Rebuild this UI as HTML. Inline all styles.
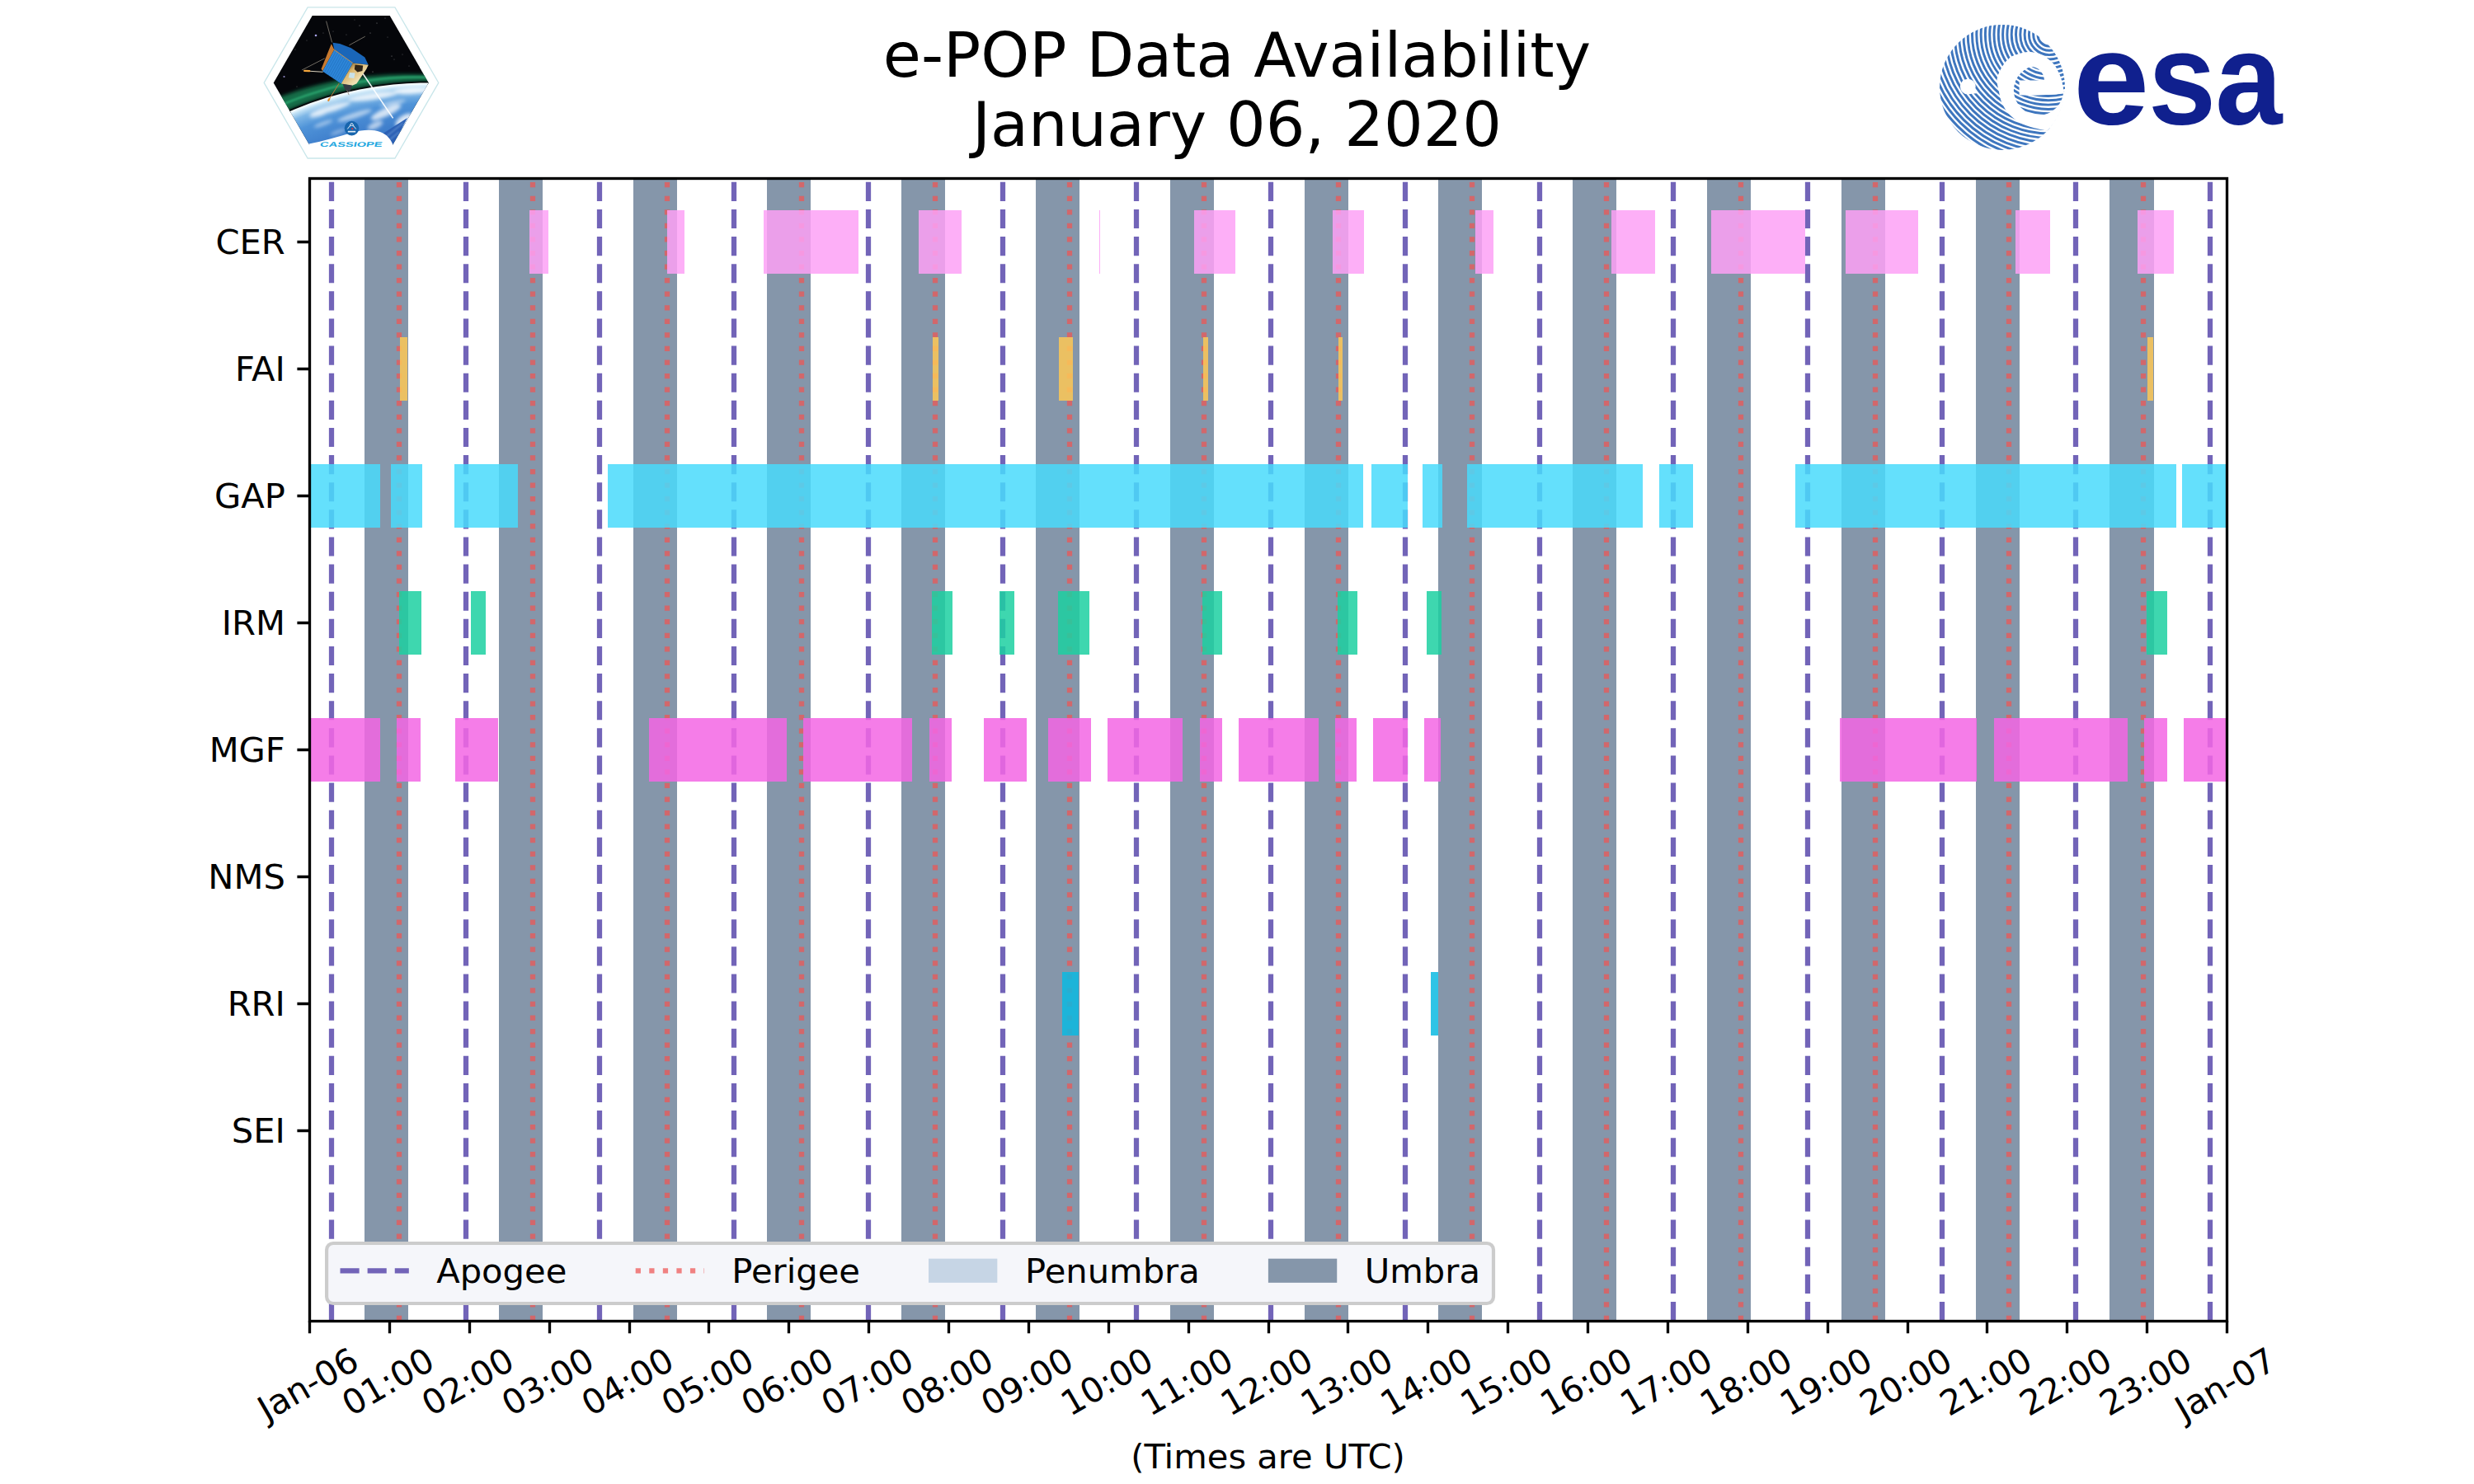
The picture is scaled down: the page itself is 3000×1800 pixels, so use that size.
<!DOCTYPE html>
<html lang="en"><head><meta charset="utf-8"><title>e-POP Data Availability</title>
<style>html,body{margin:0;padding:0;background:#fff}svg{display:block}</style></head>
<body>
<svg width="3000" height="1800" viewBox="0 0 3000 1800" font-family="'DejaVu Sans','Liberation Sans',sans-serif" fill="#000">
<rect width="3000" height="1800" fill="#fff"/>
<defs><clipPath id="axclip"><rect x="375" y="216" width="2325" height="1386"/></clipPath></defs>
<g clip-path="url(#axclip)">
<g fill="#8596aa">
<rect x="442" y="216" width="53" height="1386"/>
<rect x="605" y="216" width="53" height="1386"/>
<rect x="768" y="216" width="53" height="1386"/>
<rect x="930" y="216" width="53" height="1386"/>
<rect x="1093" y="216" width="53" height="1386"/>
<rect x="1256" y="216" width="53" height="1386"/>
<rect x="1419" y="216" width="53" height="1386"/>
<rect x="1582" y="216" width="53" height="1386"/>
<rect x="1744" y="216" width="53" height="1386"/>
<rect x="1907" y="216" width="53" height="1386"/>
<rect x="2070" y="216" width="53" height="1386"/>
<rect x="2233" y="216" width="53" height="1386"/>
<rect x="2396" y="216" width="53" height="1386"/>
<rect x="2558" y="216" width="54" height="1386"/>
</g>
<g stroke="#7264b8" stroke-width="6.25" stroke-dasharray="23.125 10" fill="none">
<path d="M402 1602V216"/>
<path d="M565 1602V216"/>
<path d="M727 1602V216"/>
<path d="M890 1602V216"/>
<path d="M1053 1602V216"/>
<path d="M1216 1602V216"/>
<path d="M1378 1602V216"/>
<path d="M1541 1602V216"/>
<path d="M1704 1602V216"/>
<path d="M1867 1602V216"/>
<path d="M2029 1602V216"/>
<path d="M2192 1602V216"/>
<path d="M2355 1602V216"/>
<path d="M2517 1602V216"/>
<path d="M2680 1602V216"/>
</g>
<g stroke="#ee5553" stroke-opacity="0.73" stroke-width="6.25" stroke-dasharray="6.25 10.3125" fill="none">
<path d="M484 1602V216"/>
<path d="M646 1602V216"/>
<path d="M809 1602V216"/>
<path d="M972 1602V216"/>
<path d="M1134 1602V216"/>
<path d="M1297 1602V216"/>
<path d="M1460 1602V216"/>
<path d="M1623 1602V216"/>
<path d="M1785 1602V216"/>
<path d="M1948 1602V216"/>
<path d="M2111 1602V216"/>
<path d="M2274 1602V216"/>
<path d="M2436 1602V216"/>
<path d="M2599 1602V216"/>
</g>
<g fill="#fda1f6" fill-opacity="0.85">
<rect x="642" y="255" width="23" height="77"/>
<rect x="809" y="255" width="21" height="77"/>
<rect x="926" y="255" width="115" height="77"/>
<rect x="1114" y="255" width="52" height="77"/>
<rect x="1333" y="255" width="1" height="77"/>
<rect x="1448" y="255" width="50" height="77"/>
<rect x="1616" y="255" width="38" height="77"/>
<rect x="1789" y="255" width="22" height="77"/>
<rect x="1954" y="255" width="53" height="77"/>
<rect x="2075" y="255" width="114" height="77"/>
<rect x="2238" y="255" width="88" height="77"/>
<rect x="2444" y="255" width="42" height="77"/>
<rect x="2592" y="255" width="44" height="77"/>
</g>
<g fill="#fdc856" fill-opacity="0.85">
<rect x="485" y="409" width="9" height="77"/>
<rect x="1131" y="409" width="7" height="77"/>
<rect x="1284" y="409" width="17" height="77"/>
<rect x="1459" y="409" width="6" height="77"/>
<rect x="1623" y="409" width="5" height="77"/>
<rect x="2604" y="409" width="7" height="77"/>
</g>
<g fill="#49dbfb" fill-opacity="0.85">
<rect x="375" y="563" width="86" height="77"/>
<rect x="474" y="563" width="38" height="77"/>
<rect x="551" y="563" width="77" height="77"/>
<rect x="737" y="563" width="916" height="77"/>
<rect x="1663" y="563" width="44" height="77"/>
<rect x="1725" y="563" width="24" height="77"/>
<rect x="1779" y="563" width="213" height="77"/>
<rect x="2012" y="563" width="41" height="77"/>
<rect x="2177" y="563" width="462" height="77"/>
<rect x="2646" y="563" width="54" height="77"/>
</g>
<g fill="#1cd0a1" fill-opacity="0.85">
<rect x="484" y="717" width="27" height="77"/>
<rect x="571" y="717" width="18" height="77"/>
<rect x="1130" y="717" width="25" height="77"/>
<rect x="1212" y="717" width="18" height="77"/>
<rect x="1283" y="717" width="38" height="77"/>
<rect x="1458" y="717" width="24" height="77"/>
<rect x="1622" y="717" width="24" height="77"/>
<rect x="1730" y="717" width="18" height="77"/>
<rect x="2603" y="717" width="25" height="77"/>
</g>
<g fill="#f366e4" fill-opacity="0.85">
<rect x="375" y="871" width="86" height="77"/>
<rect x="481" y="871" width="29" height="77"/>
<rect x="552" y="871" width="52" height="77"/>
<rect x="787" y="871" width="167" height="77"/>
<rect x="974" y="871" width="132" height="77"/>
<rect x="1127" y="871" width="27" height="77"/>
<rect x="1193" y="871" width="52" height="77"/>
<rect x="1271" y="871" width="52" height="77"/>
<rect x="1343" y="871" width="91" height="77"/>
<rect x="1455" y="871" width="27" height="77"/>
<rect x="1502" y="871" width="97" height="77"/>
<rect x="1619" y="871" width="26" height="77"/>
<rect x="1665" y="871" width="42" height="77"/>
<rect x="1727" y="871" width="20" height="77"/>
<rect x="2231" y="871" width="166" height="77"/>
<rect x="2418" y="871" width="162" height="77"/>
<rect x="2600" y="871" width="28" height="77"/>
<rect x="2648" y="871" width="52" height="77"/>
</g>
<g fill="#0bbae2" fill-opacity="0.85">
<rect x="1288" y="1179" width="20" height="77"/>
<rect x="1735" y="1179" width="9" height="77"/>
</g>
</g>
<rect x="396.1" y="1508" width="1414.9" height="73" rx="8" fill="#f5f6fa" stroke="#cccccc" stroke-width="4.17"/>
<path d="M412.5 1541.25H495.83" stroke="#7264b8" stroke-width="6.25" stroke-dasharray="23.125 10" fill="none"/>
<path d="M770.7 1541.25H854.03" stroke="#ee5553" stroke-opacity="0.73" stroke-width="6.25" stroke-dasharray="6.25 10.3125" fill="none"/>
<rect x="1126" y="1526.67" width="83.33" height="29.17" fill="#c6d5e5"/>
<rect x="1537.9" y="1526.67" width="83.33" height="29.17" fill="#8596aa"/>
<g font-size="41.667">
<text x="529.17" y="1555.83">Apogee</text>
<text x="887.30" y="1555.83">Perigee</text>
<text x="1243.00" y="1555.83">Penumbra</text>
<text x="1654.80" y="1555.83">Umbra</text>
</g>
<rect x="375.5" y="216.5" width="2325" height="1386" fill="none" stroke="#000" stroke-width="3.333"/>
<path d="M375.5 1602v15.3M472.5 1602v15.3M569.5 1602v15.3M666.5 1602v15.3M763.5 1602v15.3M859.5 1602v15.3M956.5 1602v15.3M1053.5 1602v15.3M1150.5 1602v15.3M1247.5 1602v15.3M1344.5 1602v15.3M1441.5 1602v15.3M1538.5 1602v15.3M1634.5 1602v15.3M1731.5 1602v15.3M1828.5 1602v15.3M1925.5 1602v15.3M2022.5 1602v15.3M2119.5 1602v15.3M2216.5 1602v15.3M2313.5 1602v15.3M2409.5 1602v15.3M2506.5 1602v15.3M2603.5 1602v15.3M2700.5 1602v15.3M375 293.5h-14.6M375 447.5h-14.6M375 601.5h-14.6M375 755.5h-14.6M375 909.5h-14.6M375 1063.5h-14.6M375 1217.5h-14.6M375 1371.5h-14.6" stroke="#000" stroke-width="3.333" fill="none"/>
<g font-size="41.667">
<g text-anchor="end">
<text x="345.83" y="307.90">CER</text>
<text x="345.83" y="461.90">FAI</text>
<text x="345.83" y="615.90">GAP</text>
<text x="345.83" y="769.90">IRM</text>
<text x="345.83" y="923.90">MGF</text>
<text x="345.83" y="1077.90">NMS</text>
<text x="345.83" y="1231.90">RRI</text>
<text x="345.83" y="1385.90">SEI</text>
</g>
<text transform="translate(323.47 1724.73) rotate(-30)">Jan-06</text>
<text transform="translate(425.63 1718.62) rotate(-30)">01:00</text>
<text transform="translate(522.50 1718.62) rotate(-30)">02:00</text>
<text transform="translate(619.38 1718.62) rotate(-30)">03:00</text>
<text transform="translate(716.25 1718.62) rotate(-30)">04:00</text>
<text transform="translate(813.13 1718.62) rotate(-30)">05:00</text>
<text transform="translate(910.00 1718.62) rotate(-30)">06:00</text>
<text transform="translate(1006.88 1718.62) rotate(-30)">07:00</text>
<text transform="translate(1103.76 1718.62) rotate(-30)">08:00</text>
<text transform="translate(1200.63 1718.62) rotate(-30)">09:00</text>
<text transform="translate(1297.51 1718.62) rotate(-30)">10:00</text>
<text transform="translate(1394.38 1718.62) rotate(-30)">11:00</text>
<text transform="translate(1491.26 1718.62) rotate(-30)">12:00</text>
<text transform="translate(1588.13 1718.62) rotate(-30)">13:00</text>
<text transform="translate(1685.01 1718.62) rotate(-30)">14:00</text>
<text transform="translate(1781.88 1718.62) rotate(-30)">15:00</text>
<text transform="translate(1878.76 1718.62) rotate(-30)">16:00</text>
<text transform="translate(1975.63 1718.62) rotate(-30)">17:00</text>
<text transform="translate(2072.51 1718.62) rotate(-30)">18:00</text>
<text transform="translate(2169.38 1718.62) rotate(-30)">19:00</text>
<text transform="translate(2266.26 1718.62) rotate(-30)">20:00</text>
<text transform="translate(2363.13 1718.62) rotate(-30)">21:00</text>
<text transform="translate(2460.01 1718.62) rotate(-30)">22:00</text>
<text transform="translate(2556.88 1718.62) rotate(-30)">23:00</text>
<text transform="translate(2648.47 1724.73) rotate(-30)">Jan-07</text>
<text x="1537.5" y="1780.56" text-anchor="middle">(Times are UTC)</text>
</g>
<g font-size="75" text-anchor="middle"><text x="1500" y="92.99">e-POP Data Availability</text><text x="1500" y="176.97">January 06, 2020</text></g>
<g id="cassiope">
<defs>
<clipPath id="hexclip"><polygon points="331.7,100.4 378.7,19 472.7,19 519.7,100.4 476,176 375.4,176"/></clipPath>
<filter id="b1" x="-20%" y="-50%" width="140%" height="200%"><feGaussianBlur stdDeviation="1"/></filter>
<filter id="b2" x="-20%" y="-50%" width="140%" height="200%"><feGaussianBlur stdDeviation="2.2"/></filter>
<filter id="b4" x="-20%" y="-80%" width="140%" height="260%"><feGaussianBlur stdDeviation="3.5"/></filter>
<radialGradient id="earthg" gradientUnits="userSpaceOnUse" cx="518" cy="520" r="419.5"><stop offset="0.80" stop-color="#3a74c2"/><stop offset="0.88" stop-color="#3f7fcc"/><stop offset="0.94" stop-color="#4f93d8"/><stop offset="0.972" stop-color="#7db6e6"/><stop offset="0.988" stop-color="#bfe0f5"/><stop offset="0.997" stop-color="#f2fbff"/><stop offset="1" stop-color="#ffffff"/></radialGradient>
<linearGradient id="goldg" x1="0" y1="0" x2="1" y2="1"><stop offset="0" stop-color="#3a2a14"/><stop offset="0.35" stop-color="#d9b36a"/><stop offset="0.7" stop-color="#f1e3b8"/><stop offset="1" stop-color="#c98b32"/></linearGradient>
</defs>
<polygon points="320.2,100.4 373.1,8.8 478.9,8.8 531.8,100.4 478.9,192.0 373.1,192.0" fill="#fff" stroke="#c9e6ea" stroke-width="1.3"/>
<g clip-path="url(#hexclip)">
<path d="M325 15H525 L525.0 103.1 L515.0 103.0 L505.0 103.2 L495.0 103.6 L485.0 104.3 L475.0 105.2 L465.0 106.4 L455.0 107.8 L445.0 109.4 L435.0 111.3 L425.0 113.4 L415.0 115.8 L405.0 118.5 L395.0 121.4 L385.0 124.6 L375.0 128.1 L365.0 131.9 L355.0 136.0 L345.0 140.3 L335.0 145.0 L325.0 150.0Z" fill="#05060a"/>
<circle cx="383.0" cy="43.0" r="1.3" fill="#b9b4ff" fill-opacity="0.9"/>
<circle cx="344.5" cy="93.0" r="1.1" fill="#b0a8f0" fill-opacity="0.8"/>
<circle cx="436.0" cy="31.0" r="0.6" fill="#fff" fill-opacity="0.5"/>
<circle cx="457.0" cy="28.0" r="0.6" fill="#fff" fill-opacity="0.5"/>
<circle cx="449.0" cy="40.0" r="0.6" fill="#fff" fill-opacity="0.5"/>
<circle cx="467.0" cy="22.0" r="0.5" fill="#fff" fill-opacity="0.5"/>
<circle cx="475.0" cy="68.0" r="0.6" fill="#fff" fill-opacity="0.5"/>
<circle cx="478.0" cy="72.0" r="0.5" fill="#fff" fill-opacity="0.4"/>
<circle cx="372.0" cy="49.0" r="0.5" fill="#fff" fill-opacity="0.4"/>
<circle cx="392.0" cy="40.0" r="0.5" fill="#fff" fill-opacity="0.4"/>
<circle cx="404.0" cy="38.0" r="0.5" fill="#fff" fill-opacity="0.4"/>
<circle cx="358.0" cy="60.0" r="0.5" fill="#fff" fill-opacity="0.4"/>
<circle cx="452.0" cy="87.0" r="0.6" fill="#fff" fill-opacity="0.5"/>
<circle cx="488.0" cy="66.0" r="0.5" fill="#fff" fill-opacity="0.4"/>
<circle cx="496.0" cy="80.0" r="0.5" fill="#fff" fill-opacity="0.4"/>
<circle cx="360.0" cy="105.0" r="0.5" fill="#fff" fill-opacity="0.4"/>
<circle cx="470.0" cy="45.0" r="0.5" fill="#fff" fill-opacity="0.4"/>
<circle cx="430.0" cy="24.0" r="0.5" fill="#fff" fill-opacity="0.4"/>
<circle cx="420.0" cy="42.0" r="0.5" fill="#fff" fill-opacity="0.4"/>
<path d="M320.0 147.9 L330.0 142.7 L340.0 137.9 L350.0 133.4 L360.0 129.2 L370.0 125.3 L380.0 121.7 L390.0 118.4 L400.0 115.4 L410.0 112.6 L420.0 110.1 L430.0 107.8 L440.0 105.8 L450.0 104.0 L460.0 102.5 L470.0 101.2 L480.0 100.2 L490.0 99.4 L500.0 98.9 L510.0 98.6 L520.0 98.5 L530.0 98.7 L530.0 91.2 L520.0 90.7 L510.0 90.4 L500.0 90.2 L490.0 90.2 L480.0 90.4 L470.0 90.8 L460.0 91.4 L450.0 92.2 L440.0 93.3 L430.0 94.6 L420.0 96.1 L410.0 97.8 L400.0 99.8 L390.0 102.1 L380.0 104.5 L370.0 107.3 L360.0 110.3 L350.0 113.7 L340.0 117.3 L330.0 121.2 L320.0 125.4Z" fill="#188a5a" fill-opacity="0.78" filter="url(#b2)"/>
<path d="M320.0 137.4 L330.0 132.5 L340.0 128.0 L350.0 123.8 L360.0 119.9 L370.0 116.3 L380.0 112.9 L390.0 109.9 L400.0 107.1 L410.0 104.6 L420.0 102.4 L430.0 100.4 L440.0 98.7 L450.0 97.2 L460.0 96.0 L470.0 95.0 L480.0 94.3 L490.0 93.8 L500.0 93.5 L510.0 93.5 L520.0 93.7 L530.0 94.2" fill="none" stroke="#3ad08c" stroke-width="2.6" stroke-opacity="0.55" filter="url(#b1)"/>
<circle cx="518" cy="520" r="421.3" fill="#050c0c"/>
<circle cx="518" cy="520" r="419.5" fill="url(#earthg)"/>
<g filter="url(#b2)" fill="#fff">
<ellipse cx="400" cy="132" rx="26" ry="4" transform="rotate(-17 400 132)" fill-opacity="0.75"/>
<ellipse cx="452" cy="117" rx="30" ry="4" transform="rotate(-8 452 117)" fill-opacity="0.8"/>
<ellipse cx="500" cy="110" rx="22" ry="4" transform="rotate(-3 500 110)" fill-opacity="0.8"/>
<ellipse cx="430" cy="140" rx="22" ry="3.5" transform="rotate(-18 430 140)" fill-opacity="0.55"/>
<ellipse cx="468" cy="136" rx="20" ry="5" transform="rotate(-25 468 136)" fill-opacity="0.75"/>
<ellipse cx="490" cy="146" rx="12" ry="6" transform="rotate(-35 490 146)" fill-opacity="0.8"/>
<ellipse cx="455" cy="152" rx="10" ry="4" transform="rotate(-25 455 152)" fill-opacity="0.6"/>
<ellipse cx="392" cy="150" rx="12" ry="2.5" transform="rotate(-20 392 150)" fill-opacity="0.45"/>
<ellipse cx="410" cy="160" rx="10" ry="2" transform="rotate(-20 410 160)" fill-opacity="0.4"/>
<ellipse cx="476" cy="125" rx="16" ry="2.5" transform="rotate(-12 476 125)" fill-opacity="0.5"/>
<ellipse cx="385" cy="140" rx="10" ry="2" transform="rotate(-15 385 140)" fill-opacity="0.5"/>
</g>
<polygon points="462,163.5 494,143 476.2,175.6 469,170" fill="#2b5fb4"/>
<path d="M468 166L489 149M472 170L484 160" stroke="#8fbde6" stroke-width="1.2" stroke-opacity=".6" fill="none" filter="url(#b1)"/>
<path d="M355 178 L374.7 174.6 C392 171.2 410 165.5 428 160.4 C440 157.3 452 156.8 461 160 C469 163 473.5 168.5 476.2 175 L490 176 L490 190 L355 190Z" fill="#fff"/>
<path d="M438.6 87.2 L476.6 143.4" stroke="#fff" stroke-width="1.6" stroke-opacity="0.9"/>
<g fill="none" stroke-linecap="round">
<path d="M395.7 26L402.5 51.1M442.4 44.4L423.7 54.7M366.4 84.8L393.3 71" stroke="#8a8478" stroke-width="0.8"/>
<path d="M375.2 86.2L391.1 87.2" stroke="#d8d0bd" stroke-width="1.1"/>
<path d="M369.2 85.8L375.2 86.2" stroke="#f4a63c" stroke-width="2.3"/>
<path d="M411 101.4L398.8 120.9" stroke="#b9783a" stroke-width="1"/>
<path d="M399.4 119.9L398.2 121.9" stroke="#e58d2c" stroke-width="2.1"/>
<path d="M420.2 108.5L423 114.8" stroke="#9c8f80" stroke-width="0.9"/>
</g>
<polygon points="403.5,51.8 412,53 425.8,58.2 442.4,69.5 446.7,78.7 427.9,76.6 405.3,60.3" fill="#1a66b9"/>
<polygon points="401.8,53.3 405.3,60.3 391.1,86.5 389.6,83.6" fill="#c87a30"/>
<polygon points="405.3,60.3 427.9,76.6 413.8,101.4 391.1,86.5" fill="#2d86d8"/>
<path d="M407.6 61.9L393.4 88.0M409.8 63.6L395.6 89.5M412.1 65.2L397.9 91.0M414.3 66.8L400.2 92.5M416.6 68.4L402.5 94.0M418.9 70.1L404.7 95.4M421.1 71.7L407.0 96.9M423.4 73.3L409.3 98.4M425.6 75.0L411.5 99.9" stroke="#1f69b8" stroke-width="0.55" fill="none"/>
<path d="M405.3 60.3L427.9 76.6" stroke="#dc9a4a" stroke-width="0.9"/>
<polygon points="427.9,76.6 446.7,78.7 444.2,84 432.4,101.6 426.5,104 413.8,101.4" fill="url(#goldg)"/>
<polygon points="430.6,78.6 440.2,79.6 439.4,86 433.5,87.6 429.8,84" fill="#1b130b" fill-opacity=".9"/>
<polygon points="424,88 430.6,88.6 429.4,95 422.6,94.2" fill="#c6e6f4" fill-opacity=".9"/>
<path d="M415.5 101.8L427 103.5L424.5 111L418.5 109Z" fill="#353b44"/>
<circle cx="426.5" cy="155.6" r="8.8" fill="#1765ad"/>
<path d="M421.3 156.5Q426.5 147.5 431.7 156.5M424 152.3L426.5 149L429 152.3" stroke="#fff" stroke-width="0.9" fill="none"/>
<circle cx="427.3" cy="156.2" r="1.1" fill="#e2323c"/>
<rect x="421.8" y="158.8" width="9.4" height="1.7" fill="#fff" fill-opacity=".9"/>
</g>
<text transform="translate(387.6 178.1) skewX(-12)" font-family="'Liberation Sans',sans-serif" font-weight="bold" font-size="8.4" fill="#22a7e0" textLength="75.5" lengthAdjust="spacingAndGlyphs">CASSIOPE</text>
</g>
<g id="esa">
<defs>
<clipPath id="esadisc"><circle cx="2428" cy="105.9" r="76"/></clipPath>
<clipPath id="eball"><circle cx="2472.1" cy="109.5" r="30.2"/></clipPath>
<clipPath id="eclip">
<path d="M2445.2 97.6 A16.9 16.9 0 0 1 2479 97.6 Z"/>
<path d="M2440 114.2 Q2460 117.5 2504 113.5 V142 H2440Z"/>
<rect x="2440" y="96" width="8.6" height="20"/>
</clipPath>
</defs>
<g clip-path="url(#esadisc)">
<g fill="none" stroke="#3e76be" stroke-width="2.95"><circle cx="2485.0" cy="42.0" r="14.00"/><circle cx="2485.0" cy="42.0" r="19.30"/><circle cx="2485.0" cy="42.0" r="24.60"/><circle cx="2485.0" cy="42.0" r="29.90"/><circle cx="2485.0" cy="42.0" r="35.20"/><circle cx="2485.0" cy="42.0" r="40.50"/><circle cx="2485.0" cy="42.0" r="45.80"/><circle cx="2485.0" cy="42.0" r="51.10"/><circle cx="2485.0" cy="42.0" r="56.40"/><circle cx="2485.0" cy="42.0" r="61.70"/><circle cx="2485.0" cy="42.0" r="67.00"/><circle cx="2485.0" cy="42.0" r="72.30"/><circle cx="2485.0" cy="42.0" r="77.60"/><circle cx="2485.0" cy="42.0" r="82.90"/><circle cx="2485.0" cy="42.0" r="88.20"/><circle cx="2485.0" cy="42.0" r="93.50"/><circle cx="2485.0" cy="42.0" r="98.80"/><circle cx="2485.0" cy="42.0" r="104.10"/><circle cx="2485.0" cy="42.0" r="109.40"/><circle cx="2485.0" cy="42.0" r="114.70"/><circle cx="2485.0" cy="42.0" r="120.00"/><circle cx="2485.0" cy="42.0" r="125.30"/><circle cx="2485.0" cy="42.0" r="130.60"/><circle cx="2485.0" cy="42.0" r="135.90"/><circle cx="2485.0" cy="42.0" r="141.20"/><circle cx="2485.0" cy="42.0" r="146.50"/><circle cx="2485.0" cy="42.0" r="151.80"/><circle cx="2485.0" cy="42.0" r="157.10"/><circle cx="2485.0" cy="42.0" r="162.40"/><circle cx="2485.0" cy="42.0" r="167.70"/></g>
<path d="M2439.3 68.5C2441.6 67.3 2445.7 65.9 2449.0 65.0C2452.3 64.1 2455.9 63.2 2459.2 63.1C2462.5 63.0 2465.9 63.6 2468.9 64.2C2471.9 64.8 2474.0 65.3 2477.0 66.9C2480.0 68.5 2484.3 71.8 2486.7 73.9C2489.1 76.0 2490.2 77.5 2491.6 79.3C2492.9 81.1 2493.7 82.6 2494.8 84.7C2495.9 86.8 2497.3 89.7 2498.1 91.7C2498.9 93.7 2499.1 94.5 2499.7 96.5C2500.3 98.5 2500.9 101.2 2501.5 104.0C2502.1 106.8 2501.8 109.5 2503.5 113.0C2505.2 116.5 2511.6 118.8 2512.0 125.0C2512.4 131.2 2510.3 144.5 2506.0 150.0C2501.7 155.5 2491.8 156.8 2486.0 157.8C2480.2 158.8 2476.6 157.4 2471.2 156.2C2465.8 155.0 2459.0 153.5 2453.4 150.8C2447.8 148.1 2442.1 144.3 2437.8 140.1C2433.5 135.9 2430.2 130.8 2427.8 125.6C2425.4 120.4 2424.6 113.7 2423.5 108.9C2422.4 104.1 2421.3 100.7 2421.5 97.0C2421.7 93.3 2423.2 90.2 2424.7 86.8C2426.2 83.4 2429.0 79.0 2430.7 76.6C2432.4 74.2 2433.6 73.6 2435.0 72.3C2436.4 71.0 2437.0 69.7 2439.3 68.5Z" fill="#fff"/>
<circle cx="2386.3" cy="105.1" r="9.4" fill="#fff"/>
<path d="M2389 97.5L2397.6 113.2L2384 114Z" fill="#fff"/>
<g clip-path="url(#eball)"><g clip-path="url(#eclip)"><g fill="none" stroke="#3e76be" stroke-width="2.95" transform="translate(-1.2 2.2)"><circle cx="2485.0" cy="42.0" r="14.00"/><circle cx="2485.0" cy="42.0" r="19.30"/><circle cx="2485.0" cy="42.0" r="24.60"/><circle cx="2485.0" cy="42.0" r="29.90"/><circle cx="2485.0" cy="42.0" r="35.20"/><circle cx="2485.0" cy="42.0" r="40.50"/><circle cx="2485.0" cy="42.0" r="45.80"/><circle cx="2485.0" cy="42.0" r="51.10"/><circle cx="2485.0" cy="42.0" r="56.40"/><circle cx="2485.0" cy="42.0" r="61.70"/><circle cx="2485.0" cy="42.0" r="67.00"/><circle cx="2485.0" cy="42.0" r="72.30"/><circle cx="2485.0" cy="42.0" r="77.60"/><circle cx="2485.0" cy="42.0" r="82.90"/><circle cx="2485.0" cy="42.0" r="88.20"/><circle cx="2485.0" cy="42.0" r="93.50"/><circle cx="2485.0" cy="42.0" r="98.80"/><circle cx="2485.0" cy="42.0" r="104.10"/><circle cx="2485.0" cy="42.0" r="109.40"/><circle cx="2485.0" cy="42.0" r="114.70"/><circle cx="2485.0" cy="42.0" r="120.00"/><circle cx="2485.0" cy="42.0" r="125.30"/><circle cx="2485.0" cy="42.0" r="130.60"/><circle cx="2485.0" cy="42.0" r="135.90"/><circle cx="2485.0" cy="42.0" r="141.20"/><circle cx="2485.0" cy="42.0" r="146.50"/><circle cx="2485.0" cy="42.0" r="151.80"/><circle cx="2485.0" cy="42.0" r="157.10"/><circle cx="2485.0" cy="42.0" r="162.40"/><circle cx="2485.0" cy="42.0" r="167.70"/></g></g></g>
</g>
<path d="M2504.6 108 A76.6 76.6 0 0 1 2487.5 154.5" fill="none" stroke="#fff" stroke-width="2.6"/>
<g font-family="'Liberation Sans',sans-serif" font-weight="bold" font-size="160.4" fill="#10208e">
<text transform="translate(2520.50 150.3) scale(1.0341 1)" x="-6.27" y="0">e</text>
<text transform="translate(2610.20 150.3) scale(0.9209 1)" x="-5.64" y="0">s</text>
<text transform="translate(2690.50 150.3) scale(0.9108 1)" x="-4.70" y="0">a</text>
</g>
</g>
</svg>
</body></html>
